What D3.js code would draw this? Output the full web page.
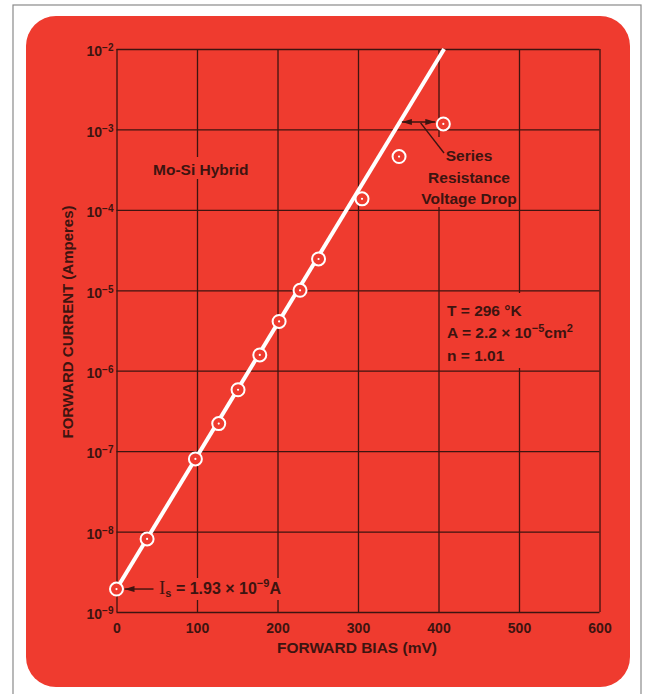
<!DOCTYPE html>
<html>
<head>
<meta charset="utf-8">
<style>
  body { margin: 0; background: #fff; }
  text { font-family: "Liberation Sans", Arial, sans-serif; font-weight: bold; fill: #3d1410; }
</style>
</head>
<body>
<script src="https://d3js.org/d3.v7.min.js"></script>
<script>
// measured points: forward bias (mV) vs forward current (A)
var biasMV = [0, 38, 98, 127, 151, 178, 202, 228, 251, 305, 351, 406];
var currentA = [1.93e-9, 8.1e-9, 8.0e-8, 2.2e-7, 5.8e-7, 1.57e-6, 4.1e-6, 1.0e-5, 2.45e-5, 1.37e-4, 4.6e-4, 1.17e-3];
// ideal diode line (Is = 1.93e-9 A, n = 1.01)
var fitMV = [0, 407];
var fitA = [1.93e-9, 1e-2];
var xTicks = [0, 100, 200, 300, 400, 500, 600];
var yExps = [-9, -8, -7, -6, -5, -4, -3, -2];

var W = 645, H = 694;
var red = '#ef3b2f', ink = '#3d1410';

var svg = d3.select('body').append('svg')
  .attr('width', W)
  .attr('height', H);

// page frame and red card
svg.append('rect')
  .attr('x', 13).attr('y', 5).attr('width', 628).attr('height', 700)
  .attr('fill', '#fff').attr('stroke', '#8a8a8a').attr('stroke-width', 1.2);
svg.append('rect')
  .attr('x', 26).attr('y', 16).attr('width', 604).attr('height', 671)
  .attr('rx', 30).attr('fill', red);

var pL = 116.5, pR = 599.5, pT = 49, pB = 612;

var x = d3.scaleLinear().domain([0, 600]).range([pL, pR]);
var y = d3.scaleLog().domain([1e-9, 1e-2]).range([pB, pT]);

// x axis with vertical grid
var gx = svg.append('g')
  .attr('transform', 'translate(0,' + pB + ')')
  .call(d3.axisBottom(x).tickValues(xTicks).tickSize(-(pB - pT)).tickPadding(11));
gx.select('.domain').remove();
gx.selectAll('line').attr('stroke', ink).attr('stroke-width', 1.3);
gx.selectAll('text')
  .attr('fill', ink).style('font-size', '14px')
  .style('font-family', '"Liberation Sans", Arial, sans-serif').style('font-weight', 'bold');

// y axis with horizontal grid
var gy = svg.append('g')
  .attr('transform', 'translate(' + pL + ',0)')
  .call(d3.axisLeft(y).tickValues(yExps.map(function(e) { return Math.pow(10, e); }))
    .tickSize(-(pR - pL)).tickPadding(3).tickFormat(function() { return ''; }));
gy.select('.domain').remove();
gy.selectAll('line').attr('stroke', ink).attr('stroke-width', 1.3);
gy.selectAll('.tick text').each(function(d) {
  var t = d3.select(this)
    .attr('fill', ink).attr('dy', '0.48em')
    .style('font-size', '14px')
    .style('font-family', '"Liberation Sans", Arial, sans-serif').style('font-weight', 'bold');
  t.append('tspan').text('10');
  t.append('tspan').attr('dy', '-0.5em').style('font-size', '10px')
    .text('\u2212' + Math.round(-Math.log10(d)));
});

// masks where labels interrupt the grid
var masks = [
  [150, 157, 100, 22],
  [418, 137, 100, 70],
  [446, 293, 151, 75],
  [156, 578, 155, 22]
];
svg.append('g').selectAll('rect').data(masks).join('rect')
  .attr('x', function(d) { return d[0]; })
  .attr('y', function(d) { return d[1]; })
  .attr('width', function(d) { return d[2]; })
  .attr('height', function(d) { return d[3]; })
  .attr('fill', red);

// axis titles
svg.append('text')
  .attr('x', (pL + pR) / 2 - 1).attr('y', 653)
  .attr('text-anchor', 'middle').style('font-size', '15.5px')
  .text('FORWARD BIAS (mV)');
svg.append('text')
  .attr('transform', 'translate(73,322) rotate(-90)')
  .attr('text-anchor', 'middle').style('font-size', '15px')
  .text('FORWARD CURRENT (Amperes)');

// fitted line
var fit = fitMV.map(function(v, i) { return [v, fitA[i]]; });
svg.append('path')
  .datum(fit)
  .attr('fill', 'none').attr('stroke', '#fff').attr('stroke-width', 4)
  .attr('d', d3.line().x(function(d) { return x(d[0]); }).y(function(d) { return y(d[1]); }));

// data points
var pts = biasMV.map(function(v, i) { return [v, currentA[i]]; });
var gp = svg.append('g');
gp.selectAll('circle.ring').data(pts).join('circle')
  .attr('class', 'ring')
  .attr('cx', function(d) { return x(d[0]); })
  .attr('cy', function(d) { return y(d[1]); })
  .attr('r', 6.5)
  .attr('fill', red).attr('stroke', '#fff').attr('stroke-width', 2);
gp.selectAll('circle.dot').data(pts).join('circle')
  .attr('class', 'dot')
  .attr('cx', function(d) { return x(d[0]); })
  .attr('cy', function(d) { return y(d[1]); })
  .attr('r', 1.1)
  .attr('fill', '#fff');

// arrowheads
var defs = svg.append('defs');
defs.append('marker')
  .attr('id', 'head').attr('viewBox', '0 0 10 6').attr('refX', 10).attr('refY', 3)
  .attr('markerWidth', 10).attr('markerHeight', 6).attr('markerUnits', 'userSpaceOnUse')
  .attr('orient', 'auto-start-reverse')
  .append('path').attr('d', 'M0,0L10,3L0,6Z').attr('fill', ink);

// Is annotation
var p0 = pts[0];
svg.append('line')
  .attr('x1', x(p0[0]) + 37).attr('y1', y(p0[1]))
  .attr('x2', x(p0[0]) + 8).attr('y2', y(p0[1]))
  .attr('stroke', ink).attr('stroke-width', 1.4).attr('marker-end', 'url(#head)');
var isT = svg.append('text').attr('x', 159).attr('y', 594).style('font-size', '16px');
isT.append('tspan').style('font-family', '"Liberation Serif", serif').style('font-weight', 'normal')
  .style('font-size', '19px').text('I');
isT.append('tspan').attr('dy', '3').style('font-size', '11px').text('s');
isT.append('tspan').attr('dy', '-3').text(' = 1.93 \u00d7 10');
isT.append('tspan').attr('dy', '-7').style('font-size', '11px').text('\u22129');
isT.append('tspan').attr('dy', '7').text('A');

// series resistance annotation
var pl = pts[pts.length - 1];
var ay = y(pl[1]) - 2;
var lineX = x(fitMV[0] + (fitMV[1] - fitMV[0]) *
  (Math.log10(y.invert(ay)) - Math.log10(fitA[0])) / (Math.log10(fitA[1]) - Math.log10(fitA[0])));
svg.append('line')
  .attr('x1', lineX + 2).attr('y1', ay).attr('x2', x(pl[0]) - 8).attr('y2', ay)
  .attr('stroke', ink).attr('stroke-width', 1.4)
  .attr('marker-start', 'url(#head)').attr('marker-end', 'url(#head)');
svg.append('line')
  .attr('x1', (lineX + x(pl[0])) / 2 - 1).attr('y1', ay + 1)
  .attr('x2', 444).attr('y2', 153)
  .attr('stroke', ink).attr('stroke-width', 1.4);
var series = ['Series', 'Resistance', 'Voltage Drop'];
svg.append('g').selectAll('text').data(series).join('text')
  .attr('x', 469).attr('y', function(d, i) { return 161 + i * 21.5; })
  .attr('text-anchor', 'middle').style('font-size', '15.5px')
  .text(function(d) { return d; });

// device label
svg.append('text').attr('x', 153).attr('y', 175).style('font-size', '15.5px').text('Mo-Si Hybrid');

// conditions
svg.append('text').attr('x', 447).attr('y', 316).style('font-size', '15.5px').text('T = 296 \u00b0K');
var c2 = svg.append('text').attr('x', 447).attr('y', 338).style('font-size', '15.5px');
c2.append('tspan').text('A = 2.2 \u00d7 10');
c2.append('tspan').attr('dy', '-6').style('font-size', '11px').text('\u22125');
c2.append('tspan').attr('dy', '6').text('cm');
c2.append('tspan').attr('dy', '-6').style('font-size', '11px').text('2');
svg.append('text').attr('x', 447).attr('y', 361).style('font-size', '15.5px').text('n = 1.01');
</script>
</body>
</html>
